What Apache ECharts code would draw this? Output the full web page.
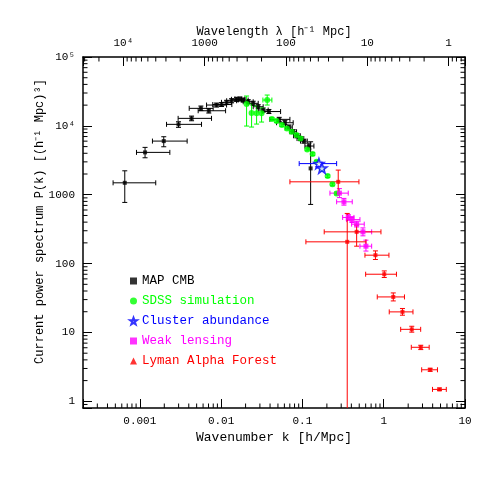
<!DOCTYPE html>
<html>
<head>
<meta charset="utf-8">
<script src="https://cdn.jsdelivr.net/npm/echarts@6/dist/echarts.min.js"></script>
<style>
html, body { margin: 0; padding: 0; background: #fff; }
#chart { width: 491px; height: 491px; }
</style>
</head>
<body>
<div id="chart"></div>
<script>
// MAP CMB
var cmbK   = [6.53e-4, 1.16e-3, 1.97e-3, 2.99e-3, 4.33e-3, 5.64e-3, 7.06e-3, 8.79e-3, 0.01013, 0.01167, 0.01345, 0.01549, 0.01702, 0.01867, 0.02153, 0.0248, 0.02858, 0.03293, 0.0387, 0.0518, 0.0609, 0.0682, 0.077, 0.0856, 0.0945, 0.1043, 0.1202, 0.1262];
var cmbP   = [1489, 4120, 6010, 10520, 12850, 17960, 16570, 20060, 20400, 21960, 23170, 24280, 24530, 23710, 22400, 21240, 18950, 16970, 16140, 12430, 11100, 9610, 8210, 7180, 6540, 6010, 5090, 2412];
var cmbKLo = [4.69e-4, 9.1e-4, 1.43e-3, 2.13e-3, 2.96e-3, 4.05e-3, 5.22e-3, 6.62e-3, 7.9e-3, 0.0101, 0.0117, 0.0134, 0.0148, 0.0162, 0.0187, 0.0215, 0.0248, 0.0286, 0.03265, 0.0398, 0.0481, 0.062, 0.07, 0.0778, 0.0859, 0.0948, 0.1074, 0.1262];
var cmbKHi = [1.57e-3, 2.34e-3, 3.82e-3, 5.74e-3, 7.62e-3, 7.98e-3, 0.01135, 0.01167, 0.01355, 0.0134, 0.0155, 0.0178, 0.0196, 0.0215, 0.0248, 0.0286, 0.0329, 0.0379, 0.0539, 0.0702, 0.077, 0.075, 0.0847, 0.0942, 0.104, 0.1147, 0.1385, 0.1262];
var cmbPLo = [773, 3440, 4970, 9510, 11860, 16680, 15350, 18760, 19100, 20500, 21600, 22700, 22900, 22100, 20900, 19800, 17700, 15800, 15100, 11600, 10400, 9000, 7700, 6700, 6100, 5600, 4600, 723];
var cmbPHi = [2225, 4870, 6950, 11480, 13870, 19400, 17840, 21440, 21800, 23500, 24800, 26000, 26300, 25400, 24000, 22800, 20300, 18200, 17300, 13300, 11900, 10300, 8800, 7700, 7000, 6400, 5620, 5875];

// SDSS simulation
var sdssK   = [0.02057, 0.0237, 0.02732, 0.03147, 0.03688, 0.04212, 0.0481, 0.0559, 0.0645, 0.0737, 0.0848, 0.095, 0.1146, 0.1335, 0.1495, 0.1738, 0.2043, 0.234, 0.2636];
var sdssP   = [20740, 15350, 15200, 15200, 23710, 12560, 11740, 10270, 9140, 8210, 7350, 6580, 4555, 3892, 3007, 2356, 1864, 1417, 1044];
var sdssKLo = [0.02057, 0.0237, 0.02732, 0.03147, 0.03265, 0.04212, 0.0481, 0.0559, 0.0645, 0.0737, 0.0848, 0.095, 0.1146, 0.1335, 0.1495, 0.1738, 0.2043, 0.234, 0.2636];
var sdssKHi = [0.02057, 0.0237, 0.02732, 0.03147, 0.04212, 0.04212, 0.0481, 0.0559, 0.0645, 0.0737, 0.0848, 0.095, 0.1146, 0.1335, 0.1495, 0.1738, 0.2043, 0.234, 0.2636];
var sdssPLo = [9935, 9610, 10620, 11360, 20060, 12000, 11200, 9800, 8730, 7840, 7020, 6280, 4350, 3720, 2870, 2250, 1780, 1350, 997];
var sdssPHi = [27120, 20740, 19400, 18150, 28030, 13150, 12300, 10750, 9570, 8600, 7700, 6890, 4770, 4080, 3150, 2470, 1950, 1480, 1093];

// Cluster abundance
var clusK   = [0.1596, 0.1738];
var clusP   = [2832, 2436];
var clusKLo = [0.0913, 0.1738];
var clusKHi = [0.2636, 0.1738];
var clusPLo = [2832, 2436];
var clusPHi = [2832, 2436];

// Weak lensing
var wlK   = [0.2853, 0.3242, 0.3662, 0.4067, 0.4646, 0.5555, 0.6047];
var wlP   = [1055, 789, 468, 435, 374, 289, 179];
var wlKLo = [0.2181, 0.2636, 0.3126, 0.3499, 0.4032, 0.4646, 0.5101];
var wlKHi = [0.3662, 0.4102, 0.4304, 0.5101, 0.5763, 0.7109, 0.7109];
var wlPLo = [908, 706, 425, 395, 340, 253, 152];
var wlPHi = [1227, 884, 515, 480, 412, 330, 219];

// Lyman Alpha Forest
var lyaK   = [0.2758, 0.4646, 0.3559, 0.7914, 1.016, 1.311, 1.701, 2.214, 2.858, 3.73, 4.856];
var lyaP   = [1540, 289, 207, 132.5, 70.1, 32.8, 19.9, 11.1, 6.09, 2.87, 1.49];
var lyaKLo = [0.0702, 0.1854, 0.1104, 0.5879, 0.5996, 0.8329, 1.17, 1.617, 2.184, 2.932, 3.983];
var lyaKHi = [0.4959, 0.9251, 0.6047, 1.16, 1.435, 1.801, 2.291, 2.85, 3.626, 4.587, 5.888];
var lyaPLo = [1044, 179, 0.1, 114.7, 62.8, 28.7, 17.8, 10.1, 5.64, 2.73, 1.43];
var lyaPHi = [2278, 361, 535, 152.9, 78.3, 37.5, 22.3, 12.3, 6.52, 3.02, 1.56];

// tick labels
var kTickVals = [0.001, 0.01, 0.1, 1, 10];
var kTickText = ['0.001', '0.01', '0.1', '1', '10'];
var lamTickVals = [1, 10, 100, 1000, 10000];
var lamTickText = ['1', '10', '100', '1000', '10\u2074'];
var pTickVals = [1, 10, 100, 1000, 10000, 100000];
var pTickText = ['1', '10', '100', '1000', '10\u2074', '10\u2075'];

var kMin = 2e-4, kMax = 10;
var pMin = 0.8, pMax = 1e5;

var FONT = 'Liberation Mono';
var STAR = 'path://M0,-10L2.35,-3.24L9.51,-3.09L3.8,1.24L5.88,8.09L0,4L-5.88,8.09L-3.8,1.24L-9.51,-3.09L-2.35,-3.24Z';

function rows(k, p, klo, khi, plo, phi) {
    return k.map(function (v, i) { return [v, p[i], klo[i], khi[i], plo[i], phi[i]]; });
}

function labelFor(vals, texts) {
    return function (v) {
        for (var i = 0; i < vals.length; i++) {
            if (Math.abs(Math.log10(v) - Math.log10(vals[i])) < 1e-6) return texts[i];
        }
        return '';
    };
}

// 2..9 x 10^n inside (lo, hi)
function minors(lo, hi) {
    var out = [];
    for (var e = Math.floor(Math.log10(lo)); e <= Math.ceil(Math.log10(hi)); e++) {
        for (var m = 2; m <= 9; m++) {
            var v = m * Math.pow(10, e);
            if (v > lo * 1.0001 && v < hi / 1.0001) out.push(v);
        }
    }
    return out;
}

// error bars with caps
function renderErr(params, api) {
    var cs = params.coordSys;
    var bottom = cs.y + cs.height;
    var c = api.coord([api.value(0), api.value(1)]);
    var l = api.coord([api.value(2), api.value(1)]);
    var r = api.coord([api.value(3), api.value(1)]);
    var lo = api.coord([api.value(0), api.value(4)]);
    var hi = api.coord([api.value(0), api.value(5)]);
    var cap = 2.5;
    var st = { stroke: api.visual('color'), lineWidth: 1 };
    var ch = [];
    if (r[0] - l[0] > 1) {
        ch.push({ type: 'line', shape: { x1: l[0], y1: c[1], x2: r[0], y2: c[1] }, style: st });
        ch.push({ type: 'line', shape: { x1: l[0], y1: c[1] - cap, x2: l[0], y2: c[1] + cap }, style: st });
        ch.push({ type: 'line', shape: { x1: r[0], y1: c[1] - cap, x2: r[0], y2: c[1] + cap }, style: st });
    }
    if (lo[1] - hi[1] > 1) {
        var yl = Math.min(lo[1], bottom);
        ch.push({ type: 'line', shape: { x1: c[0], y1: hi[1], x2: c[0], y2: yl }, style: st });
        ch.push({ type: 'line', shape: { x1: c[0] - cap, y1: hi[1], x2: c[0] + cap, y2: hi[1] }, style: st });
        if (lo[1] < bottom) {
            ch.push({ type: 'line', shape: { x1: c[0] - cap, y1: lo[1], x2: c[0] + cap, y2: lo[1] }, style: st });
        }
    }
    return { type: 'group', children: ch };
}

// minor ticks drawn at the frame edges
function tickRender(side) {
    return function (params, api) {
        var cs = params.coordSys;
        var len = 4.5;
        var st = { stroke: '#000', lineWidth: 1 };
        var p = api.coord([api.value(0), api.value(1)]);
        if (side === 'bottom') {
            return { type: 'line', shape: { x1: p[0], y1: cs.y + cs.height, x2: p[0], y2: cs.y + cs.height - len }, style: st };
        }
        if (side === 'top') {
            return { type: 'line', shape: { x1: p[0], y1: cs.y, x2: p[0], y2: cs.y + len }, style: st };
        }
        return {
            type: 'group', children: [
                { type: 'line', shape: { x1: cs.x, y1: p[1], x2: cs.x + len, y2: p[1] }, style: st },
                { type: 'line', shape: { x1: cs.x + cs.width, y1: p[1], x2: cs.x + cs.width - len, y2: p[1] }, style: st }
            ]
        };
    };
}

var groups = [
    { name: 'MAP CMB', color: '#000000', symbol: 'rect', size: 4, data: rows(cmbK, cmbP, cmbKLo, cmbKHi, cmbPLo, cmbPHi) },
    { name: 'SDSS simulation', color: '#00ff00', symbol: 'circle', size: 6, data: rows(sdssK, sdssP, sdssKLo, sdssKHi, sdssPLo, sdssPHi) },
    { name: 'Cluster abundance', color: '#0000ff', symbol: STAR, size: 10, data: rows(clusK, clusP, clusKLo, clusKHi, clusPLo, clusPHi) },
    { name: 'Weak lensing', color: '#ff00ff', symbol: 'rect', size: 5, data: rows(wlK, wlP, wlKLo, wlKHi, wlPLo, wlPHi) },
    { name: 'Lyman Alpha Forest', color: '#ff0000', symbol: 'rect', size: 4, data: rows(lyaK, lyaP, lyaKLo, lyaKHi, lyaPLo, lyaPHi) }
];

var series = [];
groups.forEach(function (g) {
    series.push({
        name: g.name + ' err', type: 'custom', renderItem: renderErr,
        itemStyle: { color: g.color }, data: g.data, encode: { x: 0, y: 1 }, silent: true, z: 2
    });
});
groups.forEach(function (g) {
    var star = g.symbol === STAR;
    series.push({
        name: g.name, type: 'scatter', symbol: g.symbol, symbolSize: g.size,
        itemStyle: star ? { color: '#ffffff', borderColor: g.color, borderWidth: 1.6 } : { color: g.color },
        data: g.data.map(function (d) { return [d[0], d[1]]; }), z: 3
    });
});

series.push({
    name: 'kMinor', type: 'custom', xAxisIndex: 0, yAxisIndex: 0, silent: true,
    renderItem: tickRender('bottom'), data: minors(kMin, kMax).map(function (v) { return [v, 1]; })
});
series.push({
    name: 'lamMinor', type: 'custom', xAxisIndex: 1, yAxisIndex: 0, silent: true,
    renderItem: tickRender('top'), data: minors(2 * Math.PI / kMax, 2 * Math.PI / kMin).map(function (v) { return [v, 1]; })
});
series.push({
    name: 'pMinor', type: 'custom', xAxisIndex: 0, yAxisIndex: 0, silent: true,
    renderItem: tickRender('side'), data: minors(pMin, pMax).map(function (v) { return [1, v]; })
});

var axisLine = { show: true, lineStyle: { color: '#000', width: 1.5 } };
var axisTick = { show: true, inside: true, length: 9, lineStyle: { color: '#000', width: 1 } };
var labelStyle = { color: '#000', fontFamily: FONT, fontSize: 11 };

var chart = echarts.init(document.getElementById('chart'));
chart.setOption({
    animation: false,
    backgroundColor: '#ffffff',
    grid: { left: 83, right: 26, top: 57, bottom: 83 },
    legend: {
        orient: 'vertical', left: 129, top: 274, padding: 0,
        itemWidth: 7, itemHeight: 7, itemGap: 6, selectedMode: false,
        textStyle: { fontFamily: FONT, fontSize: 12.5, lineHeight: 14 },
        data: [
            { name: 'MAP CMB', icon: 'rect', textStyle: { color: '#000000' } },
            { name: 'SDSS simulation', icon: 'circle', textStyle: { color: '#00ff00' } },
            { name: 'Cluster abundance', icon: STAR, textStyle: { color: '#0000ff' } },
            { name: 'Weak lensing', icon: 'rect', textStyle: { color: '#ff00ff' } },
            { name: 'Lyman Alpha Forest', icon: 'triangle', textStyle: { color: '#ff0000' } }
        ]
    },
    xAxis: [
        {
            type: 'log', logBase: 10, min: kMin, max: kMax, position: 'bottom',
            name: 'Wavenumber k [h/Mpc]', nameLocation: 'middle', nameGap: 23, nameMoveOverlap: false,
            nameTextStyle: { color: '#000', fontFamily: FONT, fontSize: 13 },
            axisLine: axisLine, axisTick: axisTick, splitLine: { show: false },
            axisLabel: Object.assign({ margin: 8, formatter: labelFor(kTickVals, kTickText) }, labelStyle)
        },
        {
            type: 'log', logBase: 10, min: 2 * Math.PI / kMax, max: 2 * Math.PI / kMin, inverse: true, position: 'top',
            name: 'Wavelength \u03bb [h\u207b\u00b9 Mpc]', nameLocation: 'middle', nameGap: 19, nameMoveOverlap: false,
            nameTextStyle: { color: '#000', fontFamily: FONT, fontSize: 12 },
            axisLine: axisLine, axisTick: axisTick, splitLine: { show: false },
            axisLabel: Object.assign({ margin: 8, formatter: labelFor(lamTickVals, lamTickText) }, labelStyle)
        }
    ],
    yAxis: [
        {
            type: 'log', logBase: 10, min: pMin, max: pMax, position: 'left',
            name: 'Current power spectrum P(k) [(h\u207b\u00b9 Mpc)\u00b3]', nameLocation: 'middle', nameGap: 37, nameMoveOverlap: false,
            nameTextStyle: { color: '#000', fontFamily: FONT, fontSize: 12, padding: [0, 0, 0, 22] },
            axisLine: axisLine, axisTick: axisTick, splitLine: { show: false },
            axisLabel: Object.assign({ margin: 8, formatter: labelFor(pTickVals, pTickText) }, labelStyle)
        },
        {
            type: 'log', logBase: 10, min: pMin, max: pMax, position: 'right',
            axisLine: axisLine, axisTick: axisTick, splitLine: { show: false },
            axisLabel: { show: false }
        }
    ],
    series: series
});
</script>
</body>
</html>
